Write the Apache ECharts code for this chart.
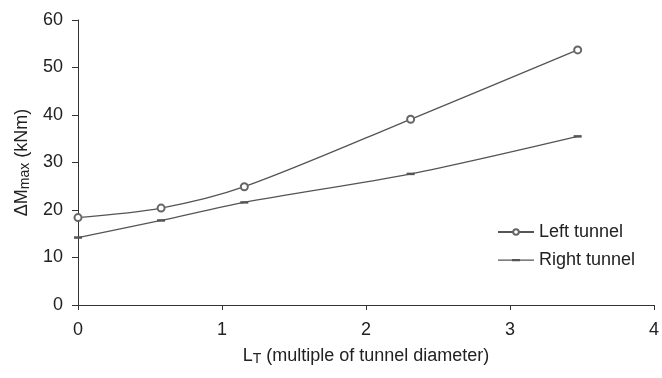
<!DOCTYPE html>
<html>
<head>
<meta charset="utf-8">
<script src="https://cdn.jsdelivr.net/npm/echarts@6/dist/echarts.min.js"></script>
<style>html,body{margin:0;padding:0;background:#fff;}#c{width:662px;height:378px;}</style>
</head>
<body>
<div id="c"></div>
<script>
var xValues = [0, 0.577, 1.155, 2.31, 3.47];
var leftTunnel = [18.4, 20.4, 24.9, 39.1, 53.7];
var rightTunnel = [14.2, 17.8, 21.6, 27.6, 35.5];
var seriesNames = ['Left tunnel', 'Right tunnel'];

function pairs(xs, ys) { return xs.map(function (x, i) { return [x, ys[i]]; }); }

var font = '"Liberation Sans", Arial, Helvetica, sans-serif';
var dashIcon = 'path://M0,0 L0.01,0 L0.01,0.01 Z M0,3 L36,3 L36,4.2 L0,4.2 Z M14,2.4 L22,2.4 L22,4.8 L14,4.8 Z M0,7 L0.01,7 L0.01,6.99 Z';
var chart = echarts.init(document.getElementById('c'));
chart.setOption({
  animation: false,
  backgroundColor: '#fff',
  textStyle: { fontFamily: font },
  grid: { left: 78, right: 4, top: 20, bottom: 73, containLabel: false },
  legend: {
    orient: 'vertical',
    left: 492, top: 218,
    itemWidth: 36, itemHeight: 7, itemGap: 10,
    textStyle: { fontSize: 18, color: '#222', fontFamily: font },
    data: [
      { name: seriesNames[0] },
      { name: seriesNames[1], icon: dashIcon, itemStyle: { color: '#555' } }
    ]
  },
  xAxis: {
    type: 'value', min: 0, max: 4, interval: 1,
    name: '{a|L}{b|T}{a| (multiple of tunnel diameter)}',
    nameLocation: 'middle', nameGap: 42,
    nameTextStyle: {
      rich: {
        a: { fontSize: 18, color: '#222', fontFamily: font },
        b: { fontSize: 14, color: '#222', fontFamily: font, padding: [0, 0, -7, 0] }
      }
    },
    axisLine: { lineStyle: { color: '#333', width: 1 } },
    axisTick: { length: 5, lineStyle: { color: '#333' } },
    axisLabel: { fontSize: 18, color: '#222', margin: 16, fontFamily: font },
    splitLine: { show: false }
  },
  yAxis: {
    type: 'value', min: 0, max: 60, interval: 10,
    name: '{a|ΔM}{b|max}{a| (kNm)}',
    nameLocation: 'middle', nameGap: 43, nameRotate: 90,
    nameTextStyle: {
      rich: {
        a: { fontSize: 18, color: '#222', fontFamily: font },
        b: { fontSize: 14, color: '#222', fontFamily: font, padding: [0, 0, -7, 0] }
      }
    },
    axisLine: { show: true, lineStyle: { color: '#333', width: 1 } },
    axisTick: { show: true, length: 6, lineStyle: { color: '#333' } },
    axisLabel: { fontSize: 18, color: '#222', margin: 15, fontFamily: font },
    splitLine: { show: false }
  },
  series: [
    {
      name: seriesNames[0], type: 'line', smooth: 0.3,
      data: pairs(xValues, leftTunnel),
      symbol: 'emptyCircle', symbolSize: 7,
      lineStyle: { color: '#555', width: 1.3 },
      itemStyle: { color: '#666', borderColor: '#555', borderWidth: 1 }
    },
    {
      name: seriesNames[1], type: 'line', smooth: 0.3,
      data: pairs(xValues, rightTunnel),
      symbol: 'rect', symbolSize: [8, 2.5],
      lineStyle: { color: '#555', width: 1.3 },
      itemStyle: { color: '#555' }
    }
  ]
});
</script>
</body>
</html>
